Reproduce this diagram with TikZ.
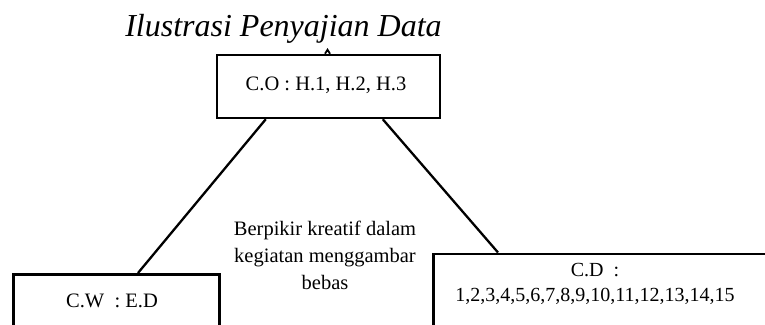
\documentclass[tikz,border=0pt]{standalone}
\usepackage{fontspec}
\setmainfont{Liberation Serif}
\begin{document}
\begin{tikzpicture}[x=1pt,y=-1pt,
  boxstyle/.style={draw=black,line width=2.5pt,rectangle,inner sep=0pt},
  conn/.style={draw=black,line width=2.3pt},
  txt/.style={font=\fontsize{20.5}{25}\selectfont,align=center,inner sep=0pt}]
\useasboundingbox (0,0) rectangle (765,324);
\clip (0,0) rectangle (765,324);
\fill[white] (0,0) rectangle (765,324);
% title
\node[anchor=base,inner sep=0pt,font=\fontsize{32}{38}\selectfont\itshape] (title) at (283.5,36) {Ilustrasi Penyajian Data};
% top box
\node[boxstyle,minimum width=223pt,minimum height=63pt] (top) at (328.5,86.5) {};
\node[txt] (toptext) at (326,85) {C.O : H.1, H.2, H.3};
% caret on top edge
\coordinate (caretL) at ([xshift=-3.5pt]top.north);
\coordinate (caretT) at ([xshift=-1pt,yshift=4pt]top.north);
\coordinate (caretR) at ([xshift=1.5pt]top.north);
\draw[line width=1.8pt,line join=miter] (caretL) -- (caretT) -- (caretR);
% left box
\node[boxstyle,minimum width=206pt,minimum height=70pt,anchor=north west] (left) at (12,273) {};
\node[txt] (lefttext) at (112,301) {C.W\ \ : E.D};
% right box
\node[boxstyle,minimum width=345pt,minimum height=90pt,anchor=north west] (right) at (432,252.5) {};
\node[txt,font=\fontsize{20}{25}\selectfont] (righttext) at (595,283.5) {C.D\ \ :\\1,2,3,4,5,6,7,8,9,10,11,12,13,14,15};
% center text
\node[txt,font=\fontsize{20.5}{27}\selectfont] (center) at (325,255.5) {Berpikir kreatif dalam\\kegiatan menggambar\\bebas};
% connectors
\draw[conn] ([xshift=50pt]top.south west) -- ([xshift=126pt]left.north west);
\draw[conn] ([xshift=167pt]top.south west) -- ([xshift=66pt]right.north west);
\end{tikzpicture}
\end{document}
